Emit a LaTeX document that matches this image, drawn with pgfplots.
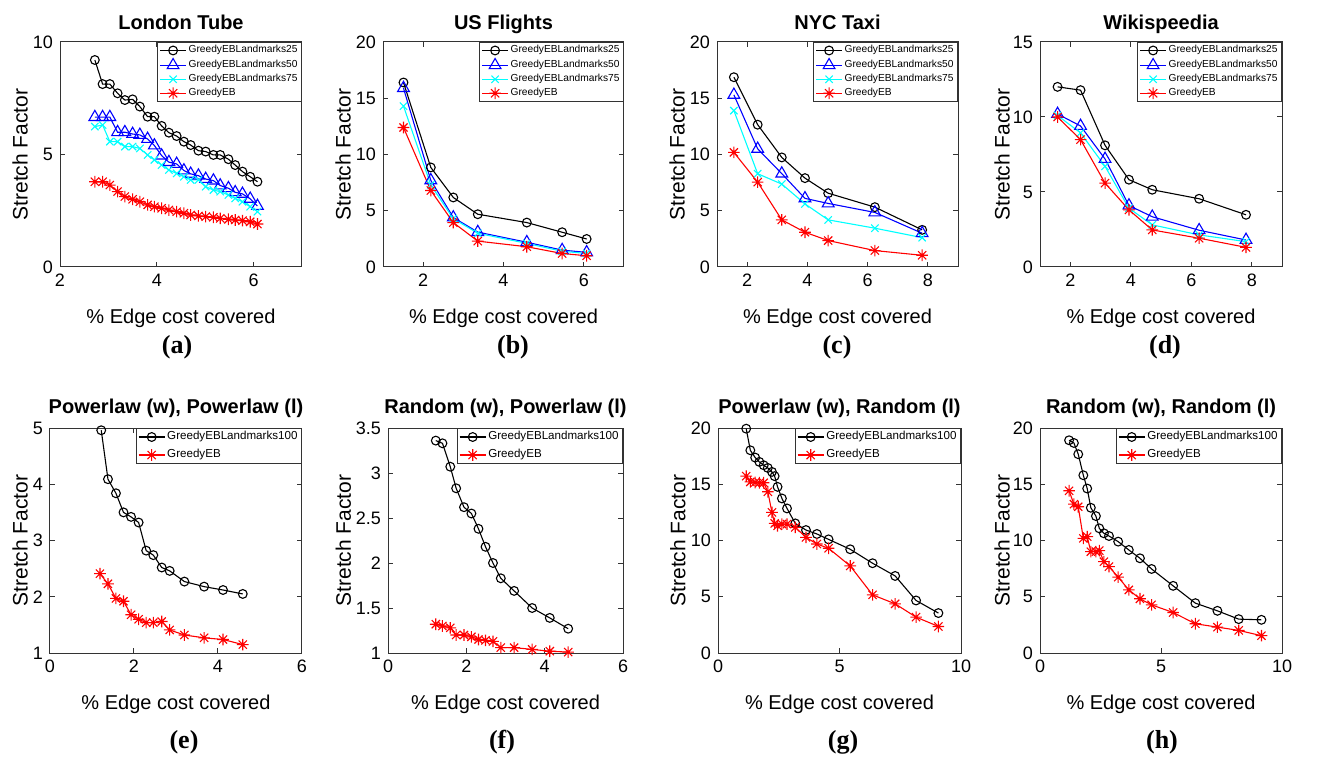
\documentclass[border=0pt]{standalone}
\usepackage{pgfplots}
\pgfplotsset{compat=1.18}
\usepackage{fontspec}
\setmainfont{Liberation Sans}
\newfontfamily\capfont{Liberation Serif}

% matlab-like asterisk: plus and cross
\pgfdeclareplotmark{ast8}{%
  \pgfpathmoveto{\pgfqpoint{0pt}{\pgfplotmarksize}}\pgfpathlineto{\pgfqpoint{0pt}{-\pgfplotmarksize}}%
  \pgfpathmoveto{\pgfqpoint{\pgfplotmarksize}{0pt}}\pgfpathlineto{\pgfqpoint{-\pgfplotmarksize}{0pt}}%
  \pgfpathmoveto{\pgfqpoint{0.707\pgfplotmarksize}{0.707\pgfplotmarksize}}\pgfpathlineto{\pgfqpoint{-0.707\pgfplotmarksize}{-0.707\pgfplotmarksize}}%
  \pgfpathmoveto{\pgfqpoint{-0.707\pgfplotmarksize}{0.707\pgfplotmarksize}}\pgfpathlineto{\pgfqpoint{0.707\pgfplotmarksize}{-0.707\pgfplotmarksize}}%
  \pgfusepathqstroke}

\definecolor{mblue}{rgb}{0,0,1}
\definecolor{mcyan}{rgb}{0,1,1}
\definecolor{mred}{rgb}{1,0,0}

\pgfplotsset{
  mat/.style={scale only axis, anchor=south west, height=112.5pt,
    axis line style={black!80,line width=0.5pt}, tick style={black!80,line width=0.5pt},
    major tick length=2.5pt, tick align=inside,
    ticklabel style={font=\fontsize{9}{10}\selectfont},
    /pgf/number format/assume math mode=true,
    every axis title/.style={at={(0.5,1)},anchor=base,yshift=6pt,font=\bfseries\fontsize{10}{12}\selectfont},
    every axis x label/.style={at={(axis description cs:0.5,-0.227)},anchor=center,font=\fontsize{10}{12}\selectfont},
    every axis y label/.style={at={(axis description cs:-0.165,0.5)},rotate=90,anchor=center,font=\fontsize{10.5}{12}\selectfont},
    xlabel={\% Edge cost covered}, ylabel={Stretch Factor},
    every axis plot/.append style={line width=0.55pt},
    legend cell align=left,
    legend image code/.code={\draw[mark repeat=2,mark phase=2] plot coordinates {(0pt,0pt) (6.5pt,0pt) (13pt,0pt)};}},
  leg4/.style={legend style={at={(1,1)},anchor=north east,draw=black!80,line width=0.5pt,
    font=\fontsize{5.1}{6}\selectfont,inner xsep=1pt,inner ysep=1pt,row sep=1pt,
    nodes={inner ysep=0.4pt,inner xsep=1pt}}},
  leg2/.style={legend style={at={(1,1)},anchor=north east,draw=black!80,line width=0.5pt,
    font=\fontsize{5.8}{7}\selectfont,inner xsep=1pt,inner ysep=1pt,row sep=2.5pt,
    nodes={inner ysep=0.4pt,inner xsep=1pt}}},
  s25/.style={black,mark=o,mark size=2.2pt},
  s50/.style={mblue,mark=triangle,mark size=3.4pt},
  s75/.style={mcyan,mark=x,mark size=2.6pt},
  seb/.style={mred,mark=ast8,mark size=2.9pt},
}

\begin{document}
\begin{tikzpicture}
\useasboundingbox (0,0) rectangle (660pt,378pt);

% (a) London Tube
\begin{axis}[mat,leg4,at={(30pt,244.5pt)},width=121pt,xmin=2,xmax=7,ymin=0,ymax=10,
  xtick={2,4,6},ytick={0,5,10},title={London Tube}]
\addplot[s25] coordinates {(2.72,9.20) (2.88,8.13) (3.03,8.13) (3.19,7.72) (3.34,7.42) (3.50,7.45) (3.65,7.13) (3.81,6.68) (3.95,6.68) (4.10,6.27) (4.25,5.97) (4.41,5.82) (4.56,5.57) (4.70,5.42) (4.86,5.17) (5.01,5.13) (5.17,4.98) (5.31,4.98) (5.48,4.79) (5.62,4.53) (5.77,4.24) (5.93,4.01) (6.08,3.79)};
\addplot[s50] coordinates {(2.72,6.66) (2.88,6.66) (3.03,6.66) (3.19,5.99) (3.34,5.99) (3.50,5.91) (3.65,5.87) (3.81,5.69) (3.95,5.40) (4.10,4.95) (4.25,4.66) (4.41,4.58) (4.56,4.29) (4.70,4.14) (4.86,4.06) (5.01,3.91) (5.17,3.84) (5.31,3.62) (5.48,3.50) (5.62,3.32) (5.77,3.25) (5.93,3.03) (6.08,2.71)};
\addplot[s75] coordinates {(2.72,6.24) (2.88,6.31) (3.03,5.57) (3.19,5.57) (3.34,5.35) (3.50,5.35) (3.65,5.27) (3.81,4.98) (3.95,4.76) (4.10,4.53) (4.25,4.31) (4.41,4.16) (4.56,4.01) (4.70,3.87) (4.86,3.87) (5.01,3.57) (5.17,3.42) (5.31,3.35) (5.48,3.20) (5.62,3.05) (5.77,2.90) (5.93,2.68) (6.08,2.46)};
\addplot[seb] coordinates {(2.72,3.79) (2.88,3.79) (3.03,3.64) (3.19,3.35) (3.34,3.13) (3.50,3.01) (3.65,2.90) (3.81,2.76) (3.95,2.68) (4.10,2.61) (4.25,2.53) (4.41,2.46) (4.56,2.39) (4.70,2.31) (4.86,2.27) (5.01,2.24) (5.17,2.21) (5.31,2.16) (5.48,2.12) (5.62,2.09) (5.77,2.06) (5.93,2.01) (6.08,1.91)};
\legend{GreedyEBLandmarks25,GreedyEBLandmarks50,GreedyEBLandmarks75,GreedyEB}
\end{axis}

% (b) US Flights
\begin{axis}[mat,leg4,at={(191.5pt,244.5pt)},width=120.5pt,xmin=1,xmax=7,ymin=0,ymax=20,
  xtick={2,4,6},ytick={0,5,10,15,20},title={US Flights},ylabel style={at={(axis description cs:-0.166,0.5)}}]
\addplot[s25] coordinates {(1.51,16.4) (2.19,8.85) (2.75,6.18) (3.36,4.69) (4.58,3.95) (5.46,3.09) (6.07,2.49)};
\addplot[s50] coordinates {(1.51,15.9) (2.19,7.7) (2.75,4.4) (3.36,3.1) (4.58,2.2) (5.46,1.5) (6.07,1.3)};
\addplot[s75] coordinates {(1.51,14.3) (2.19,7.3) (2.75,4.3) (3.36,3.0) (4.58,2.1) (5.46,1.4) (6.07,1.2)};
\addplot[seb] coordinates {(1.51,12.4) (2.19,6.8) (2.75,3.95) (3.36,2.3) (4.58,1.8) (5.46,1.2) (6.07,1.0)};
\legend{GreedyEBLandmarks25,GreedyEBLandmarks50,GreedyEBLandmarks75,GreedyEB}
\end{axis}

% (c) NYC Taxi
\begin{axis}[mat,leg4,at={(358.5pt,244.5pt)},width=120.5pt,xmin=1,xmax=9,ymin=0,ymax=20,
  xtick={2,4,6,8},ytick={0,5,10,15,20},title={NYC Taxi},ylabel style={at={(axis description cs:-0.166,0.5)}}]
\addplot[s25] coordinates {(1.56,16.87) (2.35,12.65) (3.15,9.74) (3.92,7.90) (4.69,6.56) (6.24,5.32) (7.81,3.30)};
\addplot[s50] coordinates {(1.56,15.3) (2.35,10.5) (3.15,8.3) (3.92,6.1) (4.69,5.65) (6.24,4.85) (7.81,3.0)};
\addplot[s75] coordinates {(1.56,13.90) (2.35,8.29) (3.15,7.37) (3.92,5.61) (4.69,4.19) (6.24,3.45) (7.81,2.61)};
\addplot[seb] coordinates {(1.56,10.19) (2.35,7.54) (3.15,4.19) (3.92,3.09) (4.69,2.35) (6.24,1.46) (7.81,1.04)};
\legend{GreedyEBLandmarks25,GreedyEBLandmarks50,GreedyEBLandmarks75,GreedyEB}
\end{axis}

% (d) Wikispeedia
\begin{axis}[mat,leg4,at={(520pt,244.5pt)},width=121pt,xmin=1,xmax=9,ymin=0,ymax=15,
  xtick={2,4,6,8},ytick={0,5,10,15},title={Wikispeedia},ylabel style={at={(axis description cs:-0.157,0.5)}}]
\addplot[s25] coordinates {(1.58,12.01) (2.34,11.79) (3.15,8.11) (3.94,5.82) (4.71,5.15) (6.26,4.55) (7.81,3.48)};
\addplot[s50] coordinates {(1.58,10.2) (2.34,9.4) (3.15,7.2) (3.94,4.1) (4.71,3.35) (6.26,2.45) (7.81,1.8)};
\addplot[s75] coordinates {(1.58,10.1) (2.34,8.94) (3.15,6.71) (3.94,3.92) (4.71,2.81) (6.26,2.14) (7.81,1.69)};
\addplot[seb] coordinates {(1.58,10.0) (2.34,8.49) (3.15,5.59) (3.94,3.81) (4.71,2.47) (6.26,1.92) (7.81,1.31)};
\legend{GreedyEBLandmarks25,GreedyEBLandmarks50,GreedyEBLandmarks75,GreedyEB}
\end{axis}

% (e)
\begin{axis}[mat,leg2,at={(25pt,51.5pt)},width=126pt,xmin=0,xmax=6,ymin=1,ymax=5,
  xtick={0,2,4,6},ytick={1,2,3,4,5},title={Powerlaw (w), Powerlaw (l)},every axis title/.append style={yshift=1.5pt},
  ylabel style={at={(axis description cs:-0.119,0.5)}}]
\addplot[s25] coordinates {(1.22,4.96) (1.38,4.09) (1.57,3.84) (1.75,3.50) (1.93,3.42) (2.11,3.32) (2.29,2.82) (2.46,2.74) (2.66,2.52) (2.85,2.46) (3.20,2.27) (3.67,2.18) (4.12,2.12) (4.59,2.05)};
\addplot[seb] coordinates {(1.19,2.41) (1.38,2.23) (1.57,1.97) (1.75,1.92) (1.93,1.68) (2.11,1.60) (2.29,1.54) (2.46,1.54) (2.66,1.56) (2.85,1.41) (3.20,1.32) (3.67,1.27) (4.12,1.24) (4.59,1.15)};
\legend{GreedyEBLandmarks100,GreedyEB}
\end{axis}

% (f)
\begin{axis}[mat,leg2,at={(194pt,51.5pt)},width=117.5pt,xmin=0,xmax=6,ymin=1,ymax=3.5,
  xtick={0,2,4,6},ytick={1,1.5,2,2.5,3,3.5},title={Random (w), Powerlaw (l)},every axis title/.append style={yshift=1.5pt},
  ylabel style={at={(axis description cs:-0.19,0.5)}}]
\addplot[s25] coordinates {(1.22,3.36) (1.39,3.33) (1.59,3.07) (1.74,2.83) (1.94,2.62) (2.13,2.55) (2.31,2.38) (2.49,2.18) (2.68,2.00) (2.88,1.83) (3.22,1.69) (3.68,1.50) (4.13,1.39) (4.60,1.27)};
\addplot[seb] coordinates {(1.22,1.32) (1.39,1.30) (1.59,1.28) (1.74,1.20) (1.94,1.20) (2.13,1.18) (2.31,1.15) (2.49,1.14) (2.68,1.13) (2.88,1.06) (3.22,1.06) (3.68,1.04) (4.13,1.02) (4.60,1.01)};
\legend{GreedyEBLandmarks100,GreedyEB}
\end{axis}

% (g)
\begin{axis}[mat,leg2,at={(359pt,51.5pt)},width=121.5pt,xmin=0,xmax=10,ymin=0,ymax=20,
  xtick={0,5,10},ytick={0,5,10,15,20},title={Powerlaw (w), Random (l)},every axis title/.append style={yshift=1.5pt}]
\addplot[s25] coordinates {(1.16,19.94) (1.33,18.02) (1.53,17.37) (1.70,16.99) (1.88,16.69) (2.05,16.45) (2.22,16.10) (2.33,15.72) (2.45,14.77) (2.63,13.74) (2.84,12.85) (3.18,11.52) (3.62,10.93) (4.07,10.58) (4.55,10.10) (5.44,9.22) (6.36,7.98) (7.29,6.85) (8.15,4.67) (9.07,3.55)};
\addplot[seb] coordinates {(1.16,15.72) (1.33,15.21) (1.53,15.16) (1.70,15.13) (1.88,15.13) (2.05,14.33) (2.22,12.50) (2.33,11.52) (2.45,11.31) (2.63,11.46) (2.84,11.46) (3.18,11.17) (3.62,10.28) (4.07,9.69) (4.55,9.31) (5.44,7.74) (6.36,5.17) (7.29,4.37) (8.15,3.19) (9.07,2.36)};
\legend{GreedyEBLandmarks100,GreedyEB}
\end{axis}

% (h)
\begin{axis}[mat,leg2,at={(520pt,51.5pt)},width=121pt,xmin=0,xmax=10,ymin=0,ymax=20,
  xtick={0,5,10},ytick={0,5,10,15,20},title={Random (w), Random (l)},every axis title/.append style={yshift=1.5pt},
  ylabel style={at={(axis description cs:-0.157,0.5)}}]
\addplot[s25] coordinates {(1.20,18.91) (1.40,18.67) (1.58,17.67) (1.79,15.80) (1.95,14.62) (2.10,12.91) (2.31,12.17) (2.45,11.08) (2.64,10.64) (2.85,10.40) (3.23,9.90) (3.67,9.16) (4.13,8.42) (4.61,7.47) (5.50,5.97) (6.42,4.43) (7.33,3.75) (8.21,3.01) (9.15,2.95)};
\addplot[seb] coordinates {(1.20,14.42) (1.40,13.23) (1.58,13.00) (1.79,10.19) (1.95,10.34) (2.10,9.01) (2.31,9.01) (2.45,9.10) (2.64,8.12) (2.85,7.68) (3.23,6.74) (3.67,5.61) (4.13,4.82) (4.61,4.28) (5.50,3.60) (6.42,2.60) (7.33,2.30) (8.21,2.01) (9.15,1.54)};
\legend{GreedyEBLandmarks100,GreedyEB}
\end{axis}

% panel captions
\begin{scope}[every node/.style={font=\capfont\bfseries\fontsize{13}{15}\selectfont}]
\node at (88.5pt,204.5pt) {(a)};
\node at (256.5pt,204.5pt) {(b)};
\node at (418.5pt,204.5pt) {(c)};
\node at (582.5pt,204.5pt) {(d)};
\node at (92pt,7pt) {(e)};
\node at (251pt,7pt) {(f)};
\node at (421.5pt,7pt) {(g)};
\node at (581pt,7pt) {(h)};
\end{scope}
\end{tikzpicture}
\end{document}
